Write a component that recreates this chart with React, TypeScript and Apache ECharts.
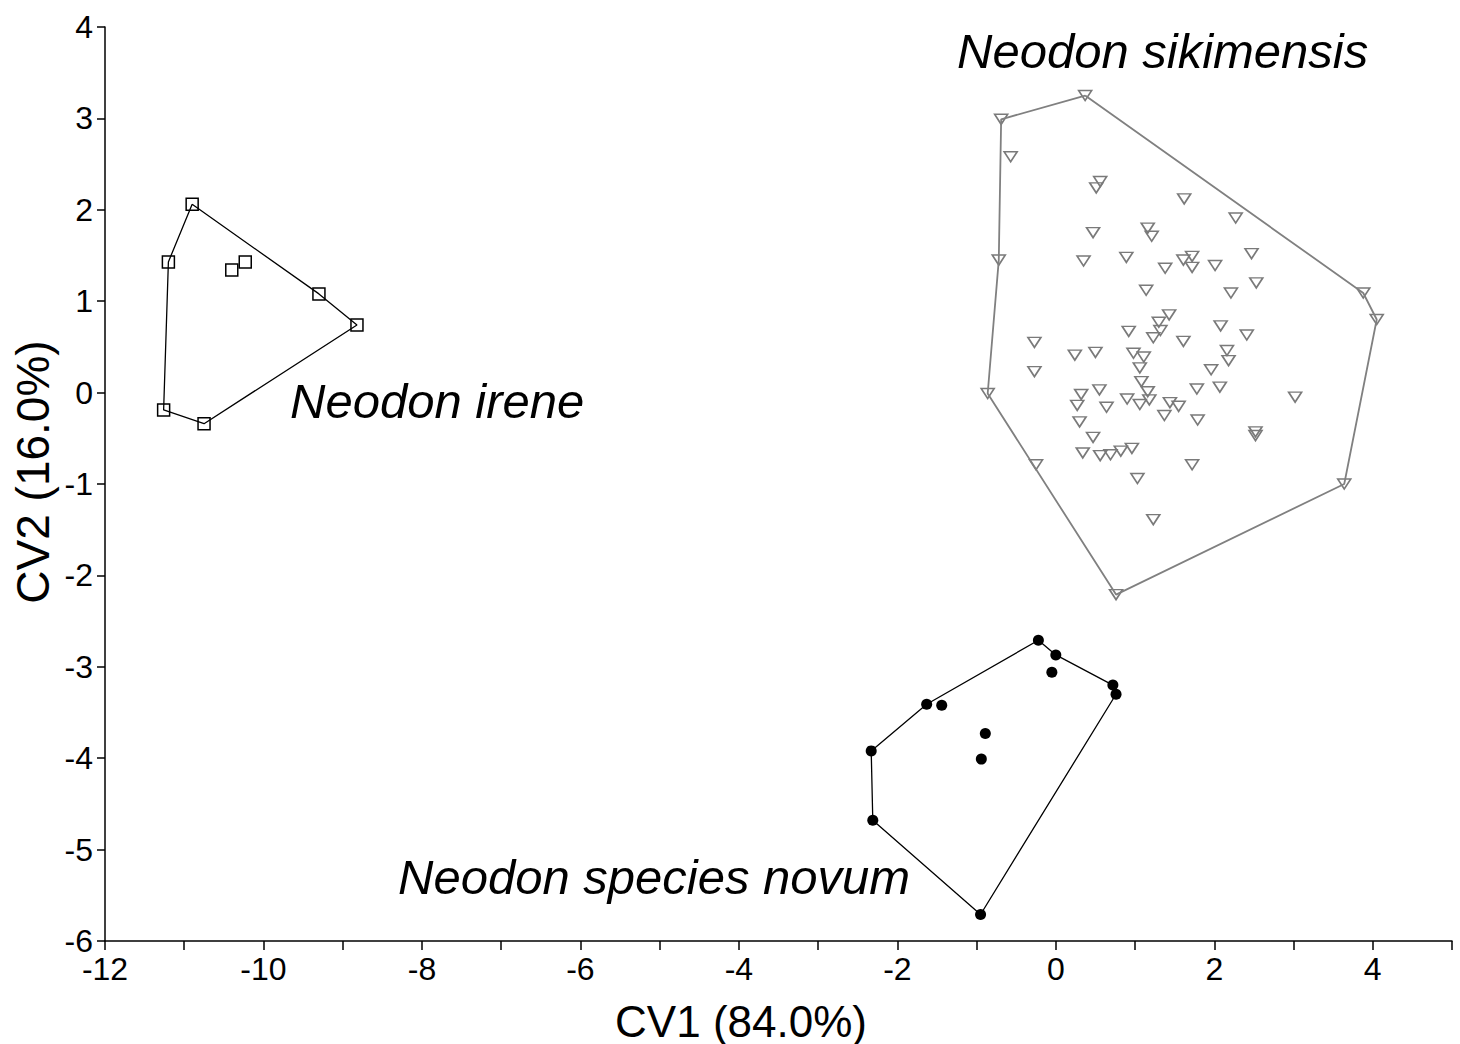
import React, { useEffect, useRef } from "react";
import * as echarts from "echarts";

// CV1 / CV2 scores
const ireneCV1 = [-10.9, -11.2, -10.4, -10.23, -9.3, -8.82, -11.26, -10.75];
const ireneCV2 = [2.06, 1.43, 1.34, 1.43, 1.08, 0.74, -0.19, -0.34];
const ireneHull = [0, 4, 5, 7, 6, 1, 0];

const novumCV1 = [-0.22, 0.0, -0.05, 0.72, 0.76, -1.63, -1.44, -0.89, -0.94, -2.33, -2.31, -0.95];
const novumCV2 = [-2.71, -2.87, -3.06, -3.2, -3.3, -3.41, -3.42, -3.73, -4.01, -3.92, -4.68, -5.71];
const novumHull = [0, 1, 3, 4, 11, 10, 9, 5, 0];

const sikimCV1 = [
  0.37, -0.69, -0.72, -0.86, 0.76, 3.64, 4.05, 3.88,
  -0.57, 0.56, 0.51, 1.62, 2.27, 0.47, 1.16, 1.21, 0.35, 0.89, 1.38, 1.14,
  1.61, 1.72, 1.72, 2.01, 2.47, 2.53, 2.21, 1.43, 1.3, 1.32, 1.23, 0.92,
  1.61, 2.08, 2.41, -0.27, 0.24, 0.5, 0.98, 1.11, 1.06, -0.27, 1.08, 2.16,
  2.18, 1.96, 1.78, 2.07, 3.02, 0.32, 0.55, 1.16, 0.27, 0.64, 0.9, 1.06,
  1.18, 1.44, 1.55, 1.37, 1.79, 2.52, 2.52, 0.3, 0.47, 0.34, 0.56, 0.69,
  0.82, 0.96, -0.25, 1.03, 1.72, 1.23,
];
const sikimCV2 = [
  3.25, 2.99, 1.45, -0.01, -2.21, -1.0, 0.8, 1.09,
  2.58, 2.31, 2.24, 2.12, 1.91, 1.75, 1.8, 1.71, 1.44, 1.48, 1.36, 1.12,
  1.45, 1.49, 1.37, 1.39, 1.52, 1.2, 1.09, 0.85, 0.77, 0.68, 0.6, 0.67,
  0.56, 0.73, 0.63, 0.55, 0.41, 0.44, 0.43, 0.39, 0.27, 0.23, 0.12, 0.46,
  0.35, 0.25, 0.04, 0.06, -0.05, -0.02, 0.03, 0.01, -0.14, -0.16, -0.07, -0.13,
  -0.08, -0.11, -0.15, -0.25, -0.3, -0.43, -0.47, -0.32, -0.49, -0.66, -0.69, -0.68,
  -0.64, -0.61, -0.79, -0.94, -0.79, -1.39,
];
const sikimHull = [0, 7, 6, 5, 4, 3, 2, 1, 0];

const xTicks = { min: -12, max: 5, step: 1 };
const yTicks = { min: -6, max: 4, step: 1 };

const speciesNames = ["Neodon sikimensis", "Neodon irene", "Neodon species novum"];
const axisTitles = ["CV1 (84.0%)", "CV2 (16.0%)"];

const pts = (xs: number[], ys: number[]) => xs.map((x, i) => [x, ys[i]]);
const hull = (xs: number[], ys: number[], idx: number[]) => idx.map((i) => [xs[i], ys[i]]);

const FONT = "'Liberation Sans', Arial, Helvetica, sans-serif";

export default function App() {
  const ref = useRef<HTMLDivElement>(null);
  useEffect(() => {
    if (!ref.current) return;
    const chart = echarts.init(ref.current, undefined, { renderer: "svg" });
    const axisCommon = {
      type: "value" as const,
      splitLine: { show: false },
      axisLine: { show: true, onZero: false, lineStyle: { color: "#000", width: 1.5 } },
      axisTick: { show: true, inside: false, length: 9, lineStyle: { color: "#000", width: 1.5 } },
    };
    chart.setOption({
      animation: false,
      backgroundColor: "#fff",
      grid: { left: 105, right: 8, top: 27, bottom: 103, containLabel: false },
      xAxis: {
        ...axisCommon,
        min: xTicks.min,
        max: xTicks.max,
        interval: xTicks.step,
        axisLabel: {
          margin: 12,
          fontSize: 32,
          color: "#000",
          fontFamily: FONT,
          showMaxLabel: true,
          showMinLabel: true,
          formatter: (v: number) => (Math.round(v) % 2 === 0 ? String(v) : ""),
        },
      },
      yAxis: {
        ...axisCommon,
        min: yTicks.min,
        max: yTicks.max,
        interval: yTicks.step,
        axisTick: { show: true, inside: false, length: 8, lineStyle: { color: "#000", width: 1.5 } },
        axisLabel: { margin: 12, fontSize: 32, color: "#000", fontFamily: FONT },
      },
      series: [
        {
          type: "line",
          data: hull(ireneCV1, ireneCV2, ireneHull),
          symbol: "none",
          lineStyle: { color: "#000", width: 1.3 },
          silent: true,
        },
        {
          type: "line",
          data: hull(novumCV1, novumCV2, novumHull),
          symbol: "none",
          lineStyle: { color: "#000", width: 1.3 },
          silent: true,
        },
        {
          type: "line",
          data: hull(sikimCV1, sikimCV2, sikimHull),
          symbol: "none",
          lineStyle: { color: "#808080", width: 1.8 },
          silent: true,
        },
        {
          type: "scatter",
          data: pts(ireneCV1, ireneCV2),
          symbol: "rect",
          symbolSize: 12,
          itemStyle: { color: "rgba(0,0,0,0)", borderColor: "#000", borderWidth: 1.5, opacity: 1 },
        },
        {
          type: "scatter",
          data: pts(novumCV1, novumCV2),
          symbol: "circle",
          symbolSize: 11,
          itemStyle: { color: "#000", opacity: 1 },
        },
        {
          type: "scatter",
          data: pts(sikimCV1, sikimCV2),
          symbol: "path://M0,0L14,0L7,11Z",
          symbolSize: [13, 10],
          itemStyle: { color: "rgba(0,0,0,0)", borderColor: "#7a7a7a", borderWidth: 1.6, opacity: 1 },
        },
      ],
      graphic: [
        {
          type: "text",
          left: 957,
          top: 26,
          style: { text: speciesNames[0], font: `italic 49px ${FONT}`, fill: "#000" },
        },
        {
          type: "text",
          left: 290,
          top: 376,
          style: { text: speciesNames[1], font: `italic 49px ${FONT}`, fill: "#000" },
        },
        {
          type: "text",
          left: 398,
          top: 852,
          style: { text: speciesNames[2], font: `italic 49px ${FONT}`, fill: "#000" },
        },
        {
          type: "text",
          x: 741,
          y: 1021,
          style: {
            text: axisTitles[0],
            font: `44px ${FONT}`,
            fill: "#000",
            align: "center",
            verticalAlign: "middle",
          },
        },
        {
          type: "text",
          x: 33,
          y: 472,
          rotation: Math.PI / 2,
          style: {
            text: axisTitles[1],
            font: `46px ${FONT}`,
            fill: "#000",
            align: "center",
            verticalAlign: "middle",
          },
        },
      ],
    });
    return () => chart.dispose();
  }, []);
  return (
    <div
      ref={ref}
      style={{ position: "fixed", left: 0, top: 0, width: 1460, height: 1044, background: "#fff" }}
    />
  );
}
